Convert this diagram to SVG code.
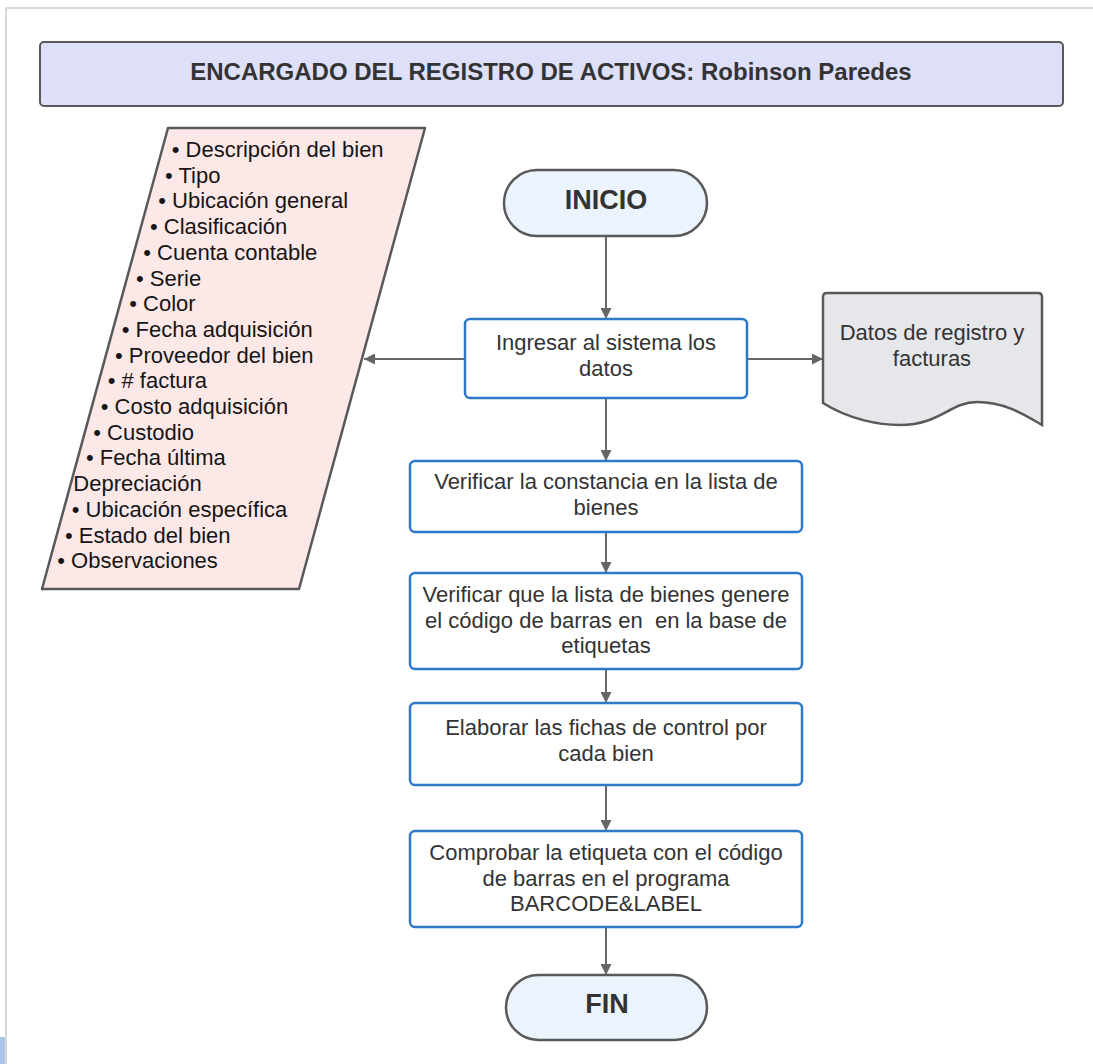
<svg xmlns="http://www.w3.org/2000/svg" width="1093" height="1064" viewBox="0 0 1093 1064">
<defs>
<style>
.t{font-family:"Liberation Sans",Arial,sans-serif;font-size:22px;fill:#333;}
.c{text-anchor:middle;}
.li{font-family:"Liberation Sans",Arial,sans-serif;font-size:22px;fill:#151515;}
.b{font-family:"Liberation Sans",Arial,sans-serif;font-weight:bold;fill:#333;text-anchor:middle;}
.proc{fill:#fff;stroke:#2e78cc;stroke-width:2.5;}
.term{fill:#ebf3fd;stroke:#595959;stroke-width:2.5;}
.conn{stroke:#666;stroke-width:2;fill:none;marker-end:url(#ah);}
</style>
<marker id="ah" viewBox="0 0 10 10" refX="10" refY="5" markerWidth="11" markerHeight="11" markerUnits="userSpaceOnUse" orient="auto">
<path d="M0,0 L10,5 L0,10 z" fill="#666"/>
</marker>
</defs>
<rect width="1093" height="1064" fill="#fff"/>
<line x1="6" y1="8" x2="1093" y2="8" stroke="#d6d6d6" stroke-width="2"/>
<line x1="6" y1="8" x2="6" y2="1064" stroke="#d6d6d6" stroke-width="2"/>
<rect x="0" y="1037" width="5" height="27" fill="#a9c5ea"/>

<g id="header">
<rect x="40" y="42" width="1023" height="64" rx="4" fill="#dedff9" stroke="#595959" stroke-width="2"/>
<text class="b" x="551" y="80" font-size="24">ENCARGADO DEL REGISTRO DE ACTIVOS: Robinson Paredes</text>
</g>

<g id="connectors">
<line class="conn" x1="606" y1="236" x2="606" y2="319"/>
<line class="conn" x1="465" y1="359" x2="364" y2="359"/>
<line class="conn" x1="747" y1="359" x2="823" y2="359"/>
<line class="conn" x1="606" y1="398" x2="606" y2="461"/>
<line class="conn" x1="606" y1="532" x2="606" y2="573"/>
<line class="conn" x1="606" y1="669" x2="606" y2="703"/>
<line class="conn" x1="606" y1="785" x2="606" y2="831"/>
<line class="conn" x1="606" y1="927" x2="606" y2="975"/>
</g>

<g id="datos">
<path d="M168,128 H425 L299,589 H42 Z" fill="#fde8e8" stroke="#595959" stroke-width="2.5" stroke-linejoin="round"/>
<text class="li" x="171.7" y="157">• Descripción del bien</text>
<text class="li" x="165" y="182.7">• Tipo</text>
<text class="li" x="158.3" y="208.4">• Ubicación general</text>
<text class="li" x="150" y="234.1">• Clasificación</text>
<text class="li" x="143.3" y="259.8">• Cuenta contable</text>
<text class="li" x="136" y="285.5">• Serie</text>
<text class="li" x="129.3" y="311.2">• Color</text>
<text class="li" x="121.7" y="336.9">• Fecha adquisición</text>
<text class="li" x="115" y="362.6">• Proveedor del bien</text>
<text class="li" x="107.7" y="388.3">• # factura</text>
<text class="li" x="100.7" y="414">• Costo adquisición</text>
<text class="li" x="93.3" y="439.7">• Custodio</text>
<text class="li" x="86" y="465.4">• Fecha última</text>
<text class="li" x="73.3" y="491.1">Depreciación</text>
<text class="li" x="71.7" y="516.8">• Ubicación específica</text>
<text class="li" x="65" y="542.5">• Estado del bien</text>
<text class="li" x="57.3" y="568.2">• Observaciones</text>
</g>

<g id="inicio">
<rect class="term" x="504" y="170" width="203" height="66" rx="33"/>
<text class="b" x="606" y="209" font-size="27">INICIO</text>
</g>

<g id="ingresar">
<rect class="proc" x="465" y="319" width="282" height="79" rx="5"/>
<text class="t c" x="606" y="350">Ingresar al sistema los</text>
<text class="t c" x="606" y="376">datos</text>
</g>

<g id="documento">
<path d="M827,293 H1038 Q1042,293 1042,297 V425 C1025,415 1005,402 977,402 C950,402 940,425 900,425 C880,425 850,420 823,403 V297 Q823,293 827,293 Z" fill="#e6e7eb" stroke="#595959" stroke-width="2.5"/>
<text class="t c" x="932" y="340">Datos de registro y</text>
<text class="t c" x="932" y="366">facturas</text>
</g>

<g id="verificar1">
<rect class="proc" x="410" y="461" width="392" height="71" rx="5"/>
<text class="t c" x="606" y="489">Verificar la constancia en la lista de</text>
<text class="t c" x="606" y="515">bienes</text>
</g>

<g id="verificar2">
<rect class="proc" x="410" y="573" width="392" height="96" rx="5"/>
<text class="t c" x="606" y="602">Verificar que la lista de bienes genere</text>
<text class="t c" x="606" y="628" xml:space="preserve">el código de barras en  en la base de</text>
<text class="t c" x="606" y="653">etiquetas</text>
</g>

<g id="elaborar">
<rect class="proc" x="410" y="703" width="392" height="82" rx="5"/>
<text class="t c" x="606" y="735">Elaborar las fichas de control por</text>
<text class="t c" x="606" y="761">cada bien</text>
</g>

<g id="comprobar">
<rect class="proc" x="410" y="831" width="392" height="96" rx="5"/>
<text class="t c" x="606" y="860">Comprobar la etiqueta con el código</text>
<text class="t c" x="606" y="886">de barras en el programa</text>
<text class="t c" x="606" y="911">BARCODE&amp;LABEL</text>
</g>

<g id="fin">
<rect class="term" x="506" y="975" width="201" height="65" rx="32.5"/>
<text class="b" x="607" y="1013" font-size="27">FIN</text>
</g>
</svg>
